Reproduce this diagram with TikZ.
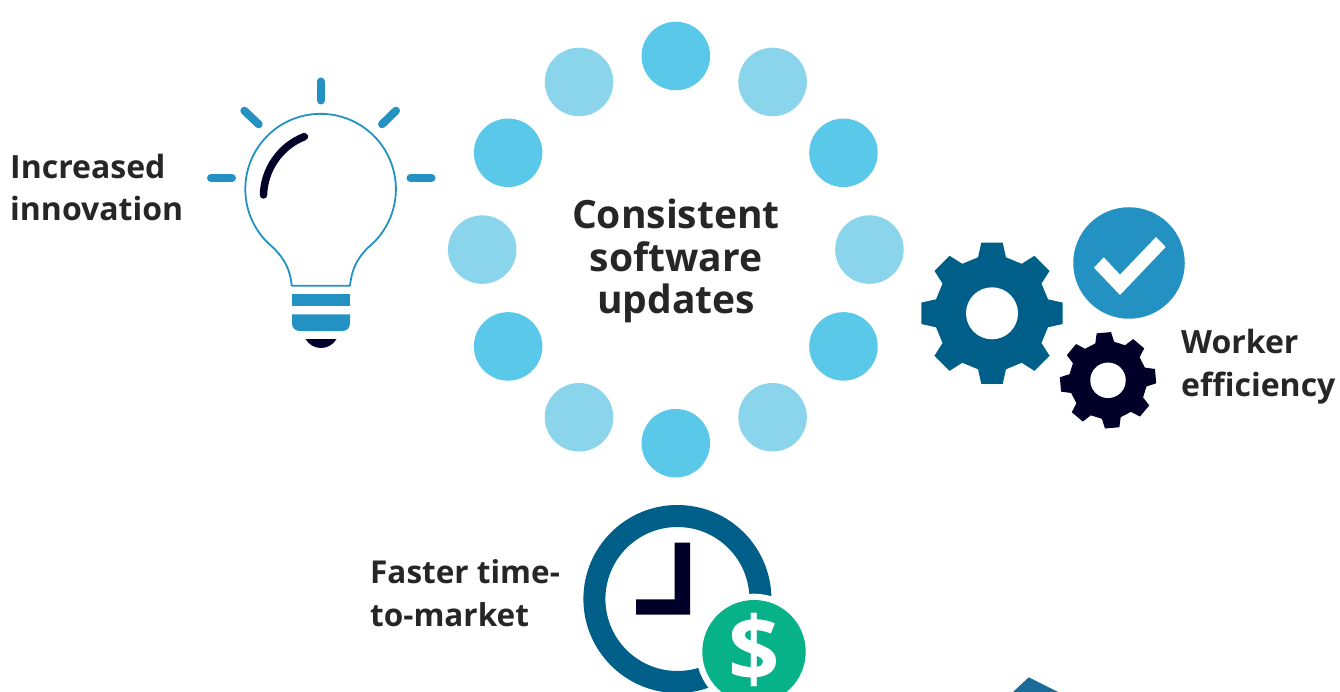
\documentclass[tikz,border=0pt]{standalone}
\usepackage{fontspec}
\setmainfont{Open Sans}
\usetikzlibrary{calc}
\definecolor{dotdark}{HTML}{5AC8E8}
\definecolor{dotlight}{HTML}{8AD4EC}
\definecolor{midblue}{HTML}{2491C3}
\definecolor{deepblue}{HTML}{005F88}
\definecolor{navy}{HTML}{000028}
\definecolor{moneygreen}{HTML}{07B288}
\definecolor{corner}{HTML}{1B6C98}
\definecolor{ink}{HTML}{262626}
\tikzset{
  dotd/.style={circle,fill=dotdark,minimum size=68.5pt,inner sep=0pt},
  dotl/.style={circle,fill=dotlight,minimum size=68.5pt,inner sep=0pt},
  label text/.style={text=ink,font=\fontsize{32}{42.5}\selectfont\bfseries,align=left,inner sep=0pt},
  small label/.style={text=ink,font=\fontsize{31.5}{42.5}\selectfont\bfseries,align=left,inner sep=0pt},
  title text/.style={text=ink,font=\fontsize{39}{42.5}\selectfont\bfseries,align=center,inner sep=0pt},
  ray/.style={draw=midblue,line width=8pt,line cap=round},
}
\begin{document}
\begin{tikzpicture}[x=1pt,y=-1pt]
\useasboundingbox (0,0) rectangle (1340,692);
\clip (0,0) rectangle (1340,692);
% ring of dots
\foreach \n/\ang/\sty in {a/-90/dotd,b/-60/dotl,c/-30/dotd,d/0/dotl,e/30/dotd,f/60/dotl,g/90/dotd,h/120/dotl,i/150/dotd,j/180/dotl,k/210/dotd,l/240/dotl}
  \node[\sty] (dot\n) at ($(675.8,249.6)+(\ang:193.6)$) {};
\node[title text] (title) at (676,261) {Consistent\\software\\updates};
% labels
\node[label text,anchor=west] (innov) at (10,187.5) {Increased\\innovation};
\node[small label,anchor=west] (faster) at (370,593) {Faster time-\\to-market};
\node[label text,anchor=west] (worker) at (1181,366.5) {Worker\\efficiency};
% bulb
\draw[ray] (320.7,81.5) -- (320.7,100.5);
\draw[ray] (211,178) -- (232,178);
\draw[ray] (410.5,178) -- (431.5,178);
\draw[ray] (244.3,110.7) -- (258.7,124.3);
\draw[ray] (396,110.7) -- (382,124.3);
\draw[midblue,line width=1.8pt,line join=round] (291.7,285.7) .. controls (290,266) and (281,254) .. (268.3,243.3)
  arc[start angle=134,end angle=406,radius=75.3]
  .. controls (360,254) and (352,266) .. (350,285.7) -- cycle;
\draw[navy,line width=7.5pt,line cap=round] (304.3,136.7) .. controls (280,146) and (264,170) .. (263.5,195);
\fill[midblue] (292,294) rectangle (350,306);
\fill[midblue] (292,314.3) -- (350,314.3) -- (350,323) .. controls (350,328) and (347,331) .. (342,331) -- (300,331) .. controls (295,331) and (292,328) .. (292,323) -- cycle;
\fill[navy] (305.5,339) -- (336.5,339) .. controls (333,345) and (327,348) .. (321,348) .. controls (315,348) and (309,345) .. (305.5,339) -- cycle;
% gears
\fill[deepblue] \foreach \a [count=\i] in {0,45,...,315}{
  \ifnum\i=1 (992,313.3)+(\a-14:57.7) \else -- ($(992,313.3)+(\a-14:57.7)$) \fi
  -- ($(992,313.3)+(\a-8.6:71.5)$) -- ($(992,313.3)+(\a+8.6:71.5)$) -- ($(992,313.3)+(\a+14:57.7)$)
} -- cycle;
\node[circle,fill=white,minimum size=52pt,inner sep=0pt] (hub1) at (992,313.3) {};
\fill[navy] \foreach \a [count=\i] in {-5,40,...,310}{
  \ifnum\i=1 (1108,380.3)+(\a-14:39) \else -- ($(1108,380.3)+(\a-14:39)$) \fi
  -- ($(1108,380.3)+(\a-8.6:48.3)$) -- ($(1108,380.3)+(\a+8.6:48.3)$) -- ($(1108,380.3)+(\a+14:39)$)
} -- cycle;
\node[circle,fill=white,minimum size=35.5pt,inner sep=0pt] (hub2) at (1108,380.3) {};
\node[circle,fill=midblue,minimum size=111.5pt,inner sep=0pt] (check) at (1129,263) {};
\fill[white] (1094,267.7) -- (1103.7,257.3) -- (1120,274.7) -- (1156,237) -- (1165.7,247) -- (1120,295) -- cycle;
% clock
\node[circle,draw=deepblue,line width=22pt,minimum size=166pt,inner sep=0pt] (clock) at (677.4,599) {};
\fill[navy] (674.7,542.7) -- (690,542.7) -- (690,614.7) -- (636,614.7) -- (636,599.3) -- (674.7,599.3) -- cycle;
\node[circle,fill=white,minimum size=116pt,inner sep=0pt] (halo) at (754,651.7) {};
\node[circle,fill=moneygreen,minimum size=103.4pt,inner sep=0pt] (money) at (754,651.7) {};
\node[inner sep=0pt,text=white,font=\fontsize{90}{90}\selectfont\bfseries] (dollar) at (754,650) {\$};
% corner shape
\fill[corner] (1013,692) -- (1028.7,677.3) -- (1058,692) -- cycle;
\end{tikzpicture}
\end{document}
